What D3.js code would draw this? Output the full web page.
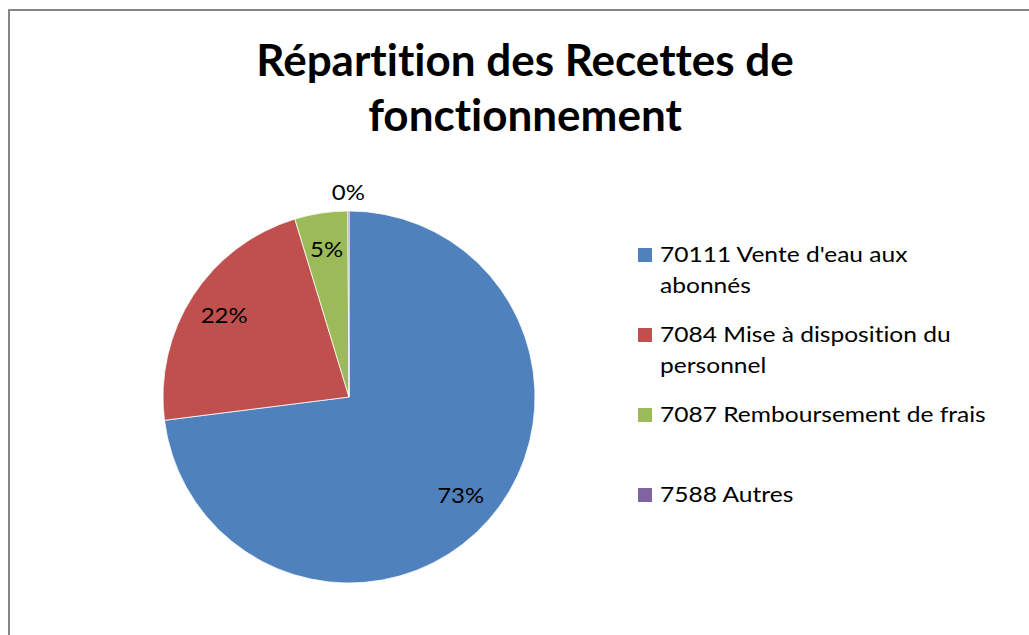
<!DOCTYPE html>
<html>
  <head>
    <meta charset="utf-8">
    <title>Répartition des Recettes de fonctionnement</title>
    <script src="https://d3js.org/d3.v7.min.js"></script>
    <style>
      body { margin: 0; background: #fff; }
      svg { display: block; font-family: Lato, "Open Sans", sans-serif; font-variant-ligatures: none; }
    </style>
  </head>
  <body>
    <script>
        var width = 1029;
        var height = 635;

        var titleLines = ["Répartition des Recettes de", "fonctionnement"];
        var categories = [
            "70111 Vente d'eau aux abonnés",
            "7084 Mise à disposition du personnel",
            "7087 Remboursement de frais",
            "7588 Autres"
        ];
        // legend text as wrapped in the picture
        var legendLines = [
            ["70111 Vente d'eau aux", "abonnés"],
            ["7084 Mise à disposition du", "personnel"],
            ["7087 Remboursement de frais"],
            ["7588 Autres"]
        ];
        var values = [73.0, 22.3, 4.6, 0.1];
        var colors = ["#4f81bd", "#c0504d", "#9bbb59", "#8064a2"];

        var svg = d3.select("body").append("svg")
            .attr("width", width)
            .attr("height", height)
        ;

        // frame (cut off on the right and bottom)
        svg.append("rect")
            .attr("x", 9)
            .attr("y", 10)
            .attr("width", width + 20)
            .attr("height", height + 20)
            .attr("fill", "none")
            .attr("stroke", "#868686")
            .attr("stroke-width", 2)
        ;

        svg.selectAll("text.title")
            .data(titleLines)
            .enter()
            .append("text")
            .classed("title", true)
            .attr("x", 525)
            .attr("y", (d, i) => 76 + i * 55)
            .attr("text-anchor", "middle")
            .attr("font-size", 44)
            .attr("font-weight", "bold")
            .attr("fill", "#000")
            .text((d) => d)
        ;

        var cx = 349, cy = 397, r = 186;
        var total = d3.sum(values);
        var pie = d3.pie().sort(null).value((d) => d);
        var arcs = pie(values);
        var arc = d3.arc().innerRadius(0).outerRadius(r);
        var inLabel = d3.arc().innerRadius(r * 0.8).outerRadius(r * 0.8);
        var outLabel = d3.arc().innerRadius(r * 1.1).outerRadius(r * 1.1);

        var g = svg.append("g")
            .attr("transform", "translate(" + cx + "," + cy + ")");

        g.selectAll("path")
            .data(arcs)
            .enter()
            .append("path")
            .attr("d", arc)
            .attr("fill", (d, i) => colors[i])
            .attr("stroke", "#fff")
            .attr("stroke-width", 0.75)
        ;

        g.selectAll("text.pct")
            .data(arcs)
            .enter()
            .append("text")
            .classed("pct", true)
            .attr("transform", (d) => {
                var share = d.value / total;
                var p = share < 0.01 ? outLabel.centroid(d) : inLabel.centroid(d);
                return "translate(" + p[0] + "," + p[1] + ") scale(1.14,1)";
            })
            .attr("text-anchor", "middle")
            .attr("dy", "0.35em")
            .attr("font-size", 21)
            .attr("fill", "#000")
            .text((d) => Math.round(d.value / total * 100) + "%")
        ;

        // legend
        var legendTop = [255, 335, 415, 495];
        var legend = svg.selectAll("g.legend")
            .data(categories)
            .enter()
            .append("g")
            .classed("legend", true)
            .attr("transform", (d, i) => "translate(638," + legendTop[i] + ")")
        ;
        legend.append("rect")
            .attr("x", 0)
            .attr("y", -7)
            .attr("width", 14)
            .attr("height", 14)
            .attr("fill", (d, i) => colors[i])
        ;
        legend.each(function(d, i) {
            d3.select(this).selectAll("text")
                .data(legendLines[i])
                .enter()
                .append("text")
                .attr("transform", (t, j) => "translate(22," + (7 + j * 31) + ") scale(1.17,1)")
                .attr("font-size", 21)
                .attr("fill", "#000")
                .text((t) => t)
            ;
        });
    </script>
  </body>
</html>
